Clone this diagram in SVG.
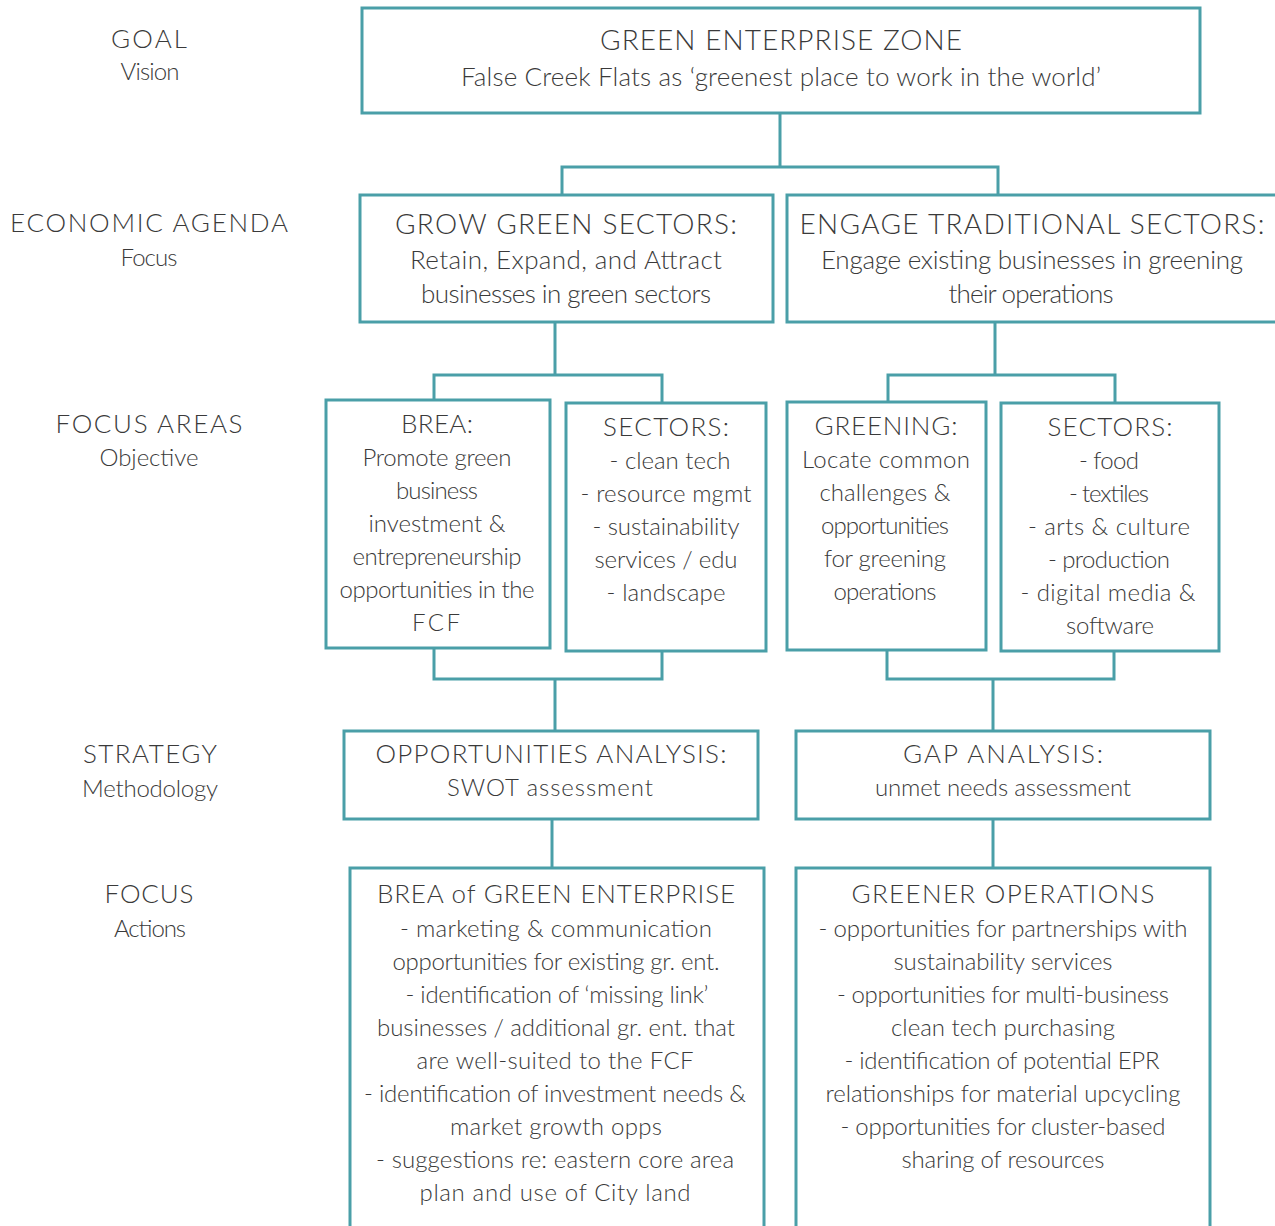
<svg xmlns="http://www.w3.org/2000/svg" width="1275" height="1226" viewBox="0 0 1275 1226">
<style>
  .box { fill: #ffffff; stroke: #4a9fa8; stroke-width: 3; }
  .conn { fill: none; stroke: #4a9fa8; stroke-width: 3; stroke-linejoin: miter; }
  text { font-family: "Lato", "Open Sans", "Liberation Sans", sans-serif; font-weight: 300; fill: #3a3a3a; text-anchor: middle; }
  .t { font-size: 26px; }
  .tb { font-size: 28px; }
  .b { font-size: 24px; }
  .bb { font-size: 26px; }
  .lt { font-size: 26px; }
  .ls { font-size: 24px; }
</style>
<rect width="1275" height="1226" fill="#ffffff"/>

<g id="connectors">
  <path class="conn" d="M780,113 V167 M562,195 V167 H998 V195"/>
  <path class="conn" d="M555,322 V375 M434,400 V375 H662 V403"/>
  <path class="conn" d="M995,322 V375 M888,402 V375 H1115 V403"/>
  <path class="conn" d="M434,648 V679 H662 V651 M555,679 V731"/>
  <path class="conn" d="M887,650 V679 H1114 V651 M993,679 V731"/>
  <path class="conn" d="M552,819 V868"/>
  <path class="conn" d="M993,819 V868"/>
</g>

<g id="labels">
  <text class="lt" x="149" y="48" textLength="76">GOAL</text>
  <text class="ls" x="150" y="80" textLength="59">Vision</text>
  <text class="lt" x="149" y="232" textLength="278">ECONOMIC AGENDA</text>
  <text class="ls" x="149" y="266" textLength="57">Focus</text>
  <text class="lt" x="149" y="433" textLength="187">FOCUS AREAS</text>
  <text class="ls" x="149" y="466" textLength="99">Objective</text>
  <text class="lt" x="150" y="763" textLength="134">STRATEGY</text>
  <text class="ls" x="150" y="797" textLength="136">Methodology</text>
  <text class="lt" x="149" y="903" textLength="89">FOCUS</text>
  <text class="ls" x="150" y="937" textLength="72">Actions</text>
</g>

<g id="node-goal">
  <rect class="box" x="362" y="8" width="838" height="105"/>
  <text class="tb" x="781" y="50" textLength="362">GREEN ENTERPRISE ZONE</text>
  <text class="bb" x="781" y="86" textLength="640">False Creek Flats as ‘greenest place to work in the world’</text>
</g>

<g id="node-grow">
  <rect class="box" x="360" y="195" width="413" height="127"/>
  <text class="tb" x="566" y="234" textLength="342">GROW GREEN SECTORS:</text>
  <text class="bb" x="566" y="269" textLength="312">Retain, Expand, and Attract</text>
  <text class="bb" x="566" y="303" textLength="290">businesses in green sectors</text>
</g>

<g id="node-engage">
  <rect class="box" x="787" y="195" width="500" height="127"/>
  <text class="tb" x="1032" y="234" textLength="465">ENGAGE TRADITIONAL SECTORS:</text>
  <text class="bb" x="1032" y="269" textLength="422">Engage existing businesses in greening</text>
  <text class="bb" x="1031" y="303" textLength="165">their operations</text>
</g>

<g id="node-brea">
  <rect class="box" x="326" y="400" width="224" height="248"/>
  <text class="t" x="437" y="433" textLength="72">BREA:</text>
  <text class="b" x="437" y="466" textLength="149">Promote green</text>
  <text class="b" x="437" y="499" textLength="82">business</text>
  <text class="b" x="437" y="532" textLength="137">investment &amp;</text>
  <text class="b" x="437" y="565" textLength="169">entrepreneurship</text>
  <text class="b" x="437" y="598" textLength="195">opportunities in the</text>
  <text class="b" x="436" y="631" textLength="48">FCF</text>
</g>

<g id="node-sectors-green">
  <rect class="box" x="566" y="403" width="200" height="248"/>
  <text class="t" x="666" y="436" textLength="126">SECTORS:</text>
  <text class="b" x="670" y="469" textLength="121">- clean tech</text>
  <text class="b" x="666" y="502" textLength="171">- resource mgmt</text>
  <text class="b" x="666" y="535" textLength="147">- sustainability</text>
  <text class="b" x="666" y="568" textLength="143">services / edu</text>
  <text class="b" x="666" y="601" textLength="119">- landscape</text>
</g>

<g id="node-greening">
  <rect class="box" x="787" y="402" width="199" height="248"/>
  <text class="t" x="886" y="435" textLength="143">GREENING:</text>
  <text class="b" x="886" y="468" textLength="168">Locate common</text>
  <text class="b" x="885" y="501" textLength="131">challenges &amp;</text>
  <text class="b" x="885" y="534" textLength="128">opportunities</text>
  <text class="b" x="885" y="567" textLength="122">for greening</text>
  <text class="b" x="885" y="600" textLength="103">operations</text>
</g>

<g id="node-sectors-trad">
  <rect class="box" x="1001" y="403" width="218" height="248"/>
  <text class="t" x="1110" y="436" textLength="125">SECTORS:</text>
  <text class="b" x="1109" y="469" textLength="60">- food</text>
  <text class="b" x="1109" y="502" textLength="80">- textiles</text>
  <text class="b" x="1109" y="535" textLength="162">- arts &amp; culture</text>
  <text class="b" x="1109" y="568" textLength="122">- production</text>
  <text class="b" x="1108" y="601" textLength="175">- digital media &amp;</text>
  <text class="b" x="1110" y="634" textLength="88">software</text>
</g>

<g id="node-opportunities">
  <rect class="box" x="344" y="731" width="414" height="88"/>
  <text class="t" x="551" y="763" textLength="351">OPPORTUNITIES ANALYSIS:</text>
  <text class="b" x="550" y="796" textLength="206">SWOT assessment</text>
</g>

<g id="node-gap">
  <rect class="box" x="796" y="731" width="414" height="88"/>
  <text class="t" x="1003" y="763" textLength="200">GAP ANALYSIS:</text>
  <text class="b" x="1003" y="796" textLength="256">unmet needs assessment</text>
</g>

<g id="node-brea-green">
  <rect class="box" x="350" y="868" width="414" height="380"/>
  <text class="t" x="556" y="903" textLength="358">BREA of GREEN ENTERPRISE</text>
  <text class="b" x="556" y="937" textLength="312">- marketing &amp; communication</text>
  <text class="b" x="556" y="970" textLength="327">opportunities for existing gr. ent.</text>
  <text class="b" x="557" y="1003" textLength="303">- identification of ‘missing link’</text>
  <text class="b" x="556" y="1036" textLength="358">businesses / additional gr. ent. that</text>
  <text class="b" x="555" y="1069" textLength="277">are well-suited to the FCF</text>
  <text class="b" x="555" y="1102" textLength="382">- identification of investment needs &amp;</text>
  <text class="b" x="556" y="1135" textLength="212">market growth opps</text>
  <text class="b" x="555" y="1168" textLength="358">- suggestions re: eastern core area</text>
  <text class="b" x="555" y="1201" textLength="271">plan and use of City land</text>
</g>

<g id="node-greener-ops">
  <rect class="box" x="796" y="868" width="414" height="380"/>
  <text class="t" x="1003" y="903" textLength="303">GREENER OPERATIONS</text>
  <text class="b" x="1003" y="937" textLength="369">- opportunities for partnerships with</text>
  <text class="b" x="1003" y="970" textLength="219">sustainability services</text>
  <text class="b" x="1003" y="1003" textLength="332">- opportunities for multi-business</text>
  <text class="b" x="1003" y="1036" textLength="224">clean tech purchasing</text>
  <text class="b" x="1002" y="1069" textLength="315">- identification of potential EPR</text>
  <text class="b" x="1003" y="1102" textLength="355">relationships for material upcycling</text>
  <text class="b" x="1003" y="1135" textLength="325">- opportunities for cluster-based</text>
  <text class="b" x="1003" y="1168" textLength="203">sharing of resources</text>
</g>
</svg>
